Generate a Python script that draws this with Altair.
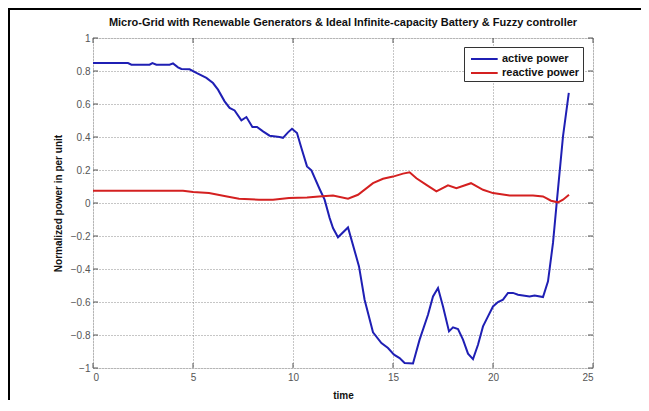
import altair as alt
import pandas as pd

# ---- data ----
active_t = [0, 1.75, 1.92, 2.83, 2.97, 3.17, 3.83, 4.0, 4.25, 4.42, 4.83, 5.17, 5.67, 6.0, 6.25,
            6.58, 6.83, 7.08, 7.42, 7.67, 7.97, 8.2, 8.5, 8.83, 9.33, 9.5, 9.75, 9.95, 10.2,
            10.42, 10.7, 10.92, 11.33, 11.58, 11.83, 12.0, 12.25, 12.75, 13.3, 13.58, 14.0,
            14.42, 14.75, 15.05, 15.33, 15.58, 16.0, 16.33, 16.75, 17.0, 17.25, 17.5, 17.8,
            18.0, 18.25, 18.5, 18.75, 19.0, 19.25, 19.5, 19.75, 20.0, 20.25, 20.5, 20.75,
            21.0, 21.25, 21.83, 22.08, 22.5, 22.75, 23.0, 23.2, 23.5, 23.79]
active_v = [0.848, 0.848, 0.838, 0.838, 0.848, 0.838, 0.838, 0.846, 0.822, 0.812, 0.81, 0.788,
            0.758, 0.727, 0.687, 0.616, 0.576, 0.561, 0.501, 0.521, 0.461, 0.461, 0.434, 0.408,
            0.40, 0.395, 0.428, 0.45, 0.424, 0.333, 0.222, 0.198, 0.085, 0.02, -0.09, -0.152,
            -0.208, -0.148, -0.384, -0.586, -0.784, -0.849, -0.879, -0.919, -0.94, -0.97,
            -0.973, -0.828, -0.677, -0.566, -0.515, -0.627, -0.778, -0.754, -0.764, -0.828,
            -0.913, -0.946, -0.859, -0.748, -0.687, -0.627, -0.6, -0.586, -0.545, -0.545,
            -0.556, -0.566, -0.56, -0.57, -0.475, -0.242, 0.02, 0.404, 0.667]

reactive_t = [0, 4.5, 5.0, 5.8, 6.7, 7.3, 8.3, 9.0, 9.8, 10.7, 11.3, 12.0, 12.75, 13.25, 14.0,
              14.5, 15.0, 15.5, 15.83, 16.17, 16.67, 17.17, 17.75, 18.17, 18.9, 19.5, 20.0,
              20.83, 22.0, 22.5, 22.9, 23.25, 23.5, 23.8]
reactive_v = [0.074, 0.074, 0.066, 0.06, 0.04, 0.026, 0.02, 0.02, 0.03, 0.034, 0.04, 0.046,
              0.026, 0.05, 0.12, 0.147, 0.16, 0.178, 0.186, 0.15, 0.11, 0.07, 0.107, 0.09,
              0.12, 0.08, 0.06, 0.046, 0.046, 0.04, 0.014, 0.004, 0.02, 0.05]

series_names = ["active power", "reactive power"]
series_colors = ["#1f1fb4", "#d42020"]

x_ticks = [0, 5, 10, 15, 20, 25]
y_ticks = [-1, -0.8, -0.6, -0.4, -0.2, 0, 0.2, 0.4, 0.6, 0.8, 1]

title_text = "Micro-Grid with Renewable Generators & Ideal Infinite-capacity Battery & Fuzzy controller"
x_title = "time"
y_title = "Normalized power in per unit"

# ---- tables ----
df = pd.concat([
    pd.DataFrame({"t": active_t, "v": active_v, "series": series_names[0], "o": range(len(active_t))}),
    pd.DataFrame({"t": reactive_t, "v": reactive_v, "series": series_names[1], "o": range(len(reactive_t))}),
], ignore_index=True)
xt = pd.DataFrame({"t": x_ticks})
yt = pd.DataFrame({"v": y_ticks})
one = pd.DataFrame({"a": [0]})

W, H = 500, 330
FONT = "Liberation Sans"

xscale = alt.Scale(domain=[0, 25], nice=False, zero=False)
yscale = alt.Scale(domain=[-1, 1], nice=False, zero=False)

grid_kw = dict(grid=True, gridColor="#8c8c8c", gridDash=[1, 2], gridWidth=1,
               domain=False, ticks=False, labelFont=FONT, labelFontSize=10,
               labelColor="#555555", titleFont=FONT, titleFontSize=10,
               titleFontWeight="bold", titleColor="#111111", labelOverlap=False)

x_axis = alt.Axis(values=x_ticks, title=x_title, labelPadding=4, titlePadding=8, **grid_kw)
y_axis = alt.Axis(values=y_ticks, format="~g", title=y_title, labelPadding=3, titlePadding=7, **grid_kw)

X = alt.X("t:Q", scale=xscale, axis=x_axis)
Y = alt.Y("v:Q", scale=yscale, axis=y_axis)

lines = alt.Chart(df).mark_line(strokeWidth=2, clip=True).encode(
    x=X,
    y=Y,
    color=alt.Color("series:N",
                    scale=alt.Scale(domain=series_names, range=series_colors),
                    legend=alt.Legend(title=None, orient="none", legendX=371, legendY=9,
                                      symbolType="M-0.625,0H2.71", symbolSize=256, symbolStrokeWidth=2,
                                      labelFont=FONT, labelFontSize=11, labelFontWeight="bold",
                                      labelColor="#111111", fillColor="white", strokeColor="#333333",
                                      padding=3, rowPadding=0, labelOffset=17)),
    order="o:Q",
)

tick_col = "#555555"
bx = alt.Chart(xt).mark_rule(color=tick_col).encode(x=X, y=alt.value(H), y2=alt.value(H - 5))
tx = alt.Chart(xt).mark_rule(color=tick_col).encode(x=X, y=alt.value(0), y2=alt.value(5))
ly = alt.Chart(yt).mark_rule(color=tick_col).encode(y=Y, x=alt.value(0), x2=alt.value(5))
ry = alt.Chart(yt).mark_rule(color=tick_col).encode(y=Y, x=alt.value(W - 5), x2=alt.value(W))

frame_left = alt.Chart(one).mark_rule(color="black", strokeWidth=2).encode(
    x=alt.value(-84), y=alt.value(-31), y2=alt.value(H + 32))
frame_top = alt.Chart(one).mark_rule(color="black", strokeWidth=2).encode(
    x=alt.value(-85), x2=alt.value(W + 48), y=alt.value(-29))

title = alt.Chart(one).mark_text(font=FONT, fontSize=11, fontWeight="bold", color="#111111",
                                 align="center", baseline="alphabetic").encode(
    x=alt.value(W / 2), y=alt.value(-12), text=alt.value(title_text))

chart = alt.layer(lines, bx, tx, ly, ry, frame_left, frame_top, title).properties(
    width=W, height=H,
    padding={"left": 85, "top": 30, "right": 48, "bottom": 32},
    autosize=alt.AutoSizeParams(type="none"),
).configure_view(stroke="#666666", strokeWidth=1.2).configure(background="white")

chart.save("out.html", embed_options={"renderer": "svg", "actions": False})
